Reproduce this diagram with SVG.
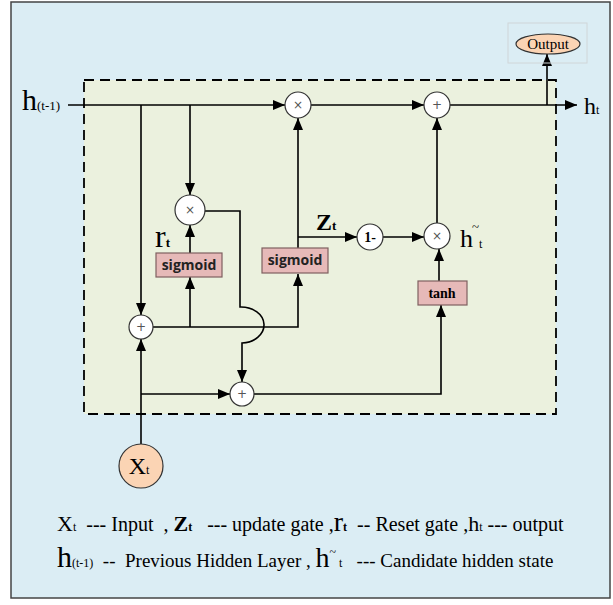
<svg xmlns="http://www.w3.org/2000/svg" width="613" height="605" viewBox="0 0 613 605">
<defs>
<marker id="ar" markerUnits="userSpaceOnUse" markerWidth="12" markerHeight="10" refX="12" refY="5" orient="auto">
<path d="M0,0 L12,5 L0,10 z" fill="#000"/>
</marker>
<style>
.ln{fill:none;stroke:#000;stroke-width:1.6}
.ar{marker-end:url(#ar)}
.op{fill:#fff;stroke:#333;stroke-width:1.2}
.sym{font-family:"DejaVu Sans",sans-serif;font-size:12px;fill:#555;text-anchor:middle}
.box{fill:#e6b9b8;stroke:#7f6060;stroke-width:1.2}
.sg{font-family:"Open Sans","Liberation Sans",sans-serif;font-weight:bold;font-size:14px;fill:#222;text-anchor:middle}
.tm{font-family:"Liberation Serif","Times New Roman",serif;fill:#000}
.pre{white-space:pre}
</style>
</defs>
<rect x="11" y="2" width="599" height="596" fill="#dbedf4" stroke="#444" stroke-width="1.5"/>
<rect x="84" y="80" width="472" height="334" fill="#ebf1de" stroke="#000" stroke-width="1.8" stroke-dasharray="10,6"/>

<g id="connectors">
<path class="ln ar" d="M68,105 H285"/>
<path class="ln ar" d="M311,105 H424"/>
<path class="ln ar" d="M450,105 H577"/>
<path class="ln ar" d="M547,105 V54"/>
<path class="ln ar" d="M141,105 V315"/>
<path class="ln ar" d="M190,105 V195"/>
<path class="ln ar" d="M190,253 V225"/>
<path class="ln ar" d="M205,211 H240 V307 A23 18 0 0 1 242 343 V382"/>
<path class="ln ar" d="M153,327 H298 V274"/>
<path class="ln ar" d="M190,327 V277"/>
<path class="ln ar" d="M141,444 V339"/>
<path class="ln ar" d="M141,394 H230"/>
<path class="ln ar" d="M254,394 H441 V305"/>
<path class="ln ar" d="M298,248 V118"/>
<path class="ln ar" d="M298,237 H357"/>
<path class="ln ar" d="M383,237 H424"/>
<path class="ln ar" d="M439,281 V249"/>
<path class="ln ar" d="M437,223 V118"/>
</g>

<g id="hprev"><text class="tm" x="22" y="110" font-size="30">h<tspan font-size="13">(t-1)</tspan></text></g>
<g id="mul1"><circle class="op" cx="298" cy="105" r="13"/><text class="sym" x="298" y="109">×</text></g>
<g id="add1"><circle class="op" cx="437" cy="105" r="13"/><text class="sym" x="437" y="109">+</text></g>
<g id="ht"><text class="tm" x="584" y="114" font-size="24">h<tspan font-size="12">t</tspan></text></g>
<g id="output">
<rect x="508" y="23" width="79" height="40" fill="none" stroke="#d0d6d8" stroke-width="1"/>
<ellipse cx="548" cy="44" rx="32" ry="10" fill="#fbd4b4" stroke="#333" stroke-width="1.2"/>
<text class="tm" x="548" y="49" font-size="15" text-anchor="middle">Output</text>
</g>
<g id="mulr"><circle class="op" cx="190" cy="210" r="15"/><text class="sym" x="190" y="214">×</text></g>
<g id="rt"><text class="tm" x="155" y="247" font-size="32">r<tspan font-size="13" font-weight="bold">t</tspan></text></g>
<g id="sig1"><rect class="box" x="156" y="253" width="66" height="24"/><text class="sg" x="189" y="270">sigmoid</text></g>
<g id="sig2"><rect class="box" x="262" y="248" width="66" height="25"/><text class="sg" x="295" y="265">sigmoid</text></g>
<g id="zt"><text class="tm" x="316" y="230" font-size="24" font-weight="bold">Z<tspan font-size="13">t</tspan></text></g>
<g id="one"><circle class="op" cx="370" cy="237" r="13"/><text class="tm" x="370" y="242" font-size="14" font-weight="bold" text-anchor="middle">1-</text></g>
<g id="mulh"><circle class="op" cx="437" cy="236" r="13"/><text class="sym" x="437" y="240">×</text></g>
<g id="htilde"><text class="tm" x="460" y="247" font-size="26">h</text><text class="tm" x="472" y="231" font-size="13">~</text><text class="tm" x="479" y="248" font-size="12">t</text></g>
<g id="tanh"><rect class="box" x="418" y="281" width="49" height="24"/><text class="tm" x="442" y="298" font-size="14" font-weight="bold" text-anchor="middle">tanh</text></g>
<g id="addl"><circle class="op" cx="141" cy="327" r="12"/><text class="sym" x="141" y="331">+</text></g>
<g id="addb"><circle class="op" cx="242" cy="394" r="12"/><text class="sym" x="242" y="398">+</text></g>
<g id="xt"><circle cx="141" cy="466" r="22" fill="#fbd4b4" stroke="#333" stroke-width="1.2"/><text class="tm" x="139" y="474" font-size="24" text-anchor="middle">X<tspan font-size="12">t</tspan></text></g>

<g id="legend">
<text class="tm pre" x="57" y="531" font-size="20"><tspan font-size="22">X</tspan><tspan font-size="12">t</tspan>  --- Input  , <tspan font-size="22" font-weight="bold">Z</tspan><tspan font-size="12" font-weight="bold">t</tspan>   --- update gate ,<tspan font-size="28">r</tspan><tspan font-size="12" font-weight="bold">t</tspan>  -- Reset gate ,<tspan font-size="22">h</tspan><tspan font-size="12">t</tspan> --- output</text>
<text class="tm pre" x="57" y="567" font-size="19"><tspan font-size="30">h</tspan><tspan font-size="12">(t-1)</tspan>  --  Previous Hidden Layer , <tspan font-size="28">h</tspan><tspan font-size="12" dy="-11">~</tspan><tspan font-size="12" dy="11"> t</tspan>   --- Candidate hidden state</text>
</g>
</svg>
